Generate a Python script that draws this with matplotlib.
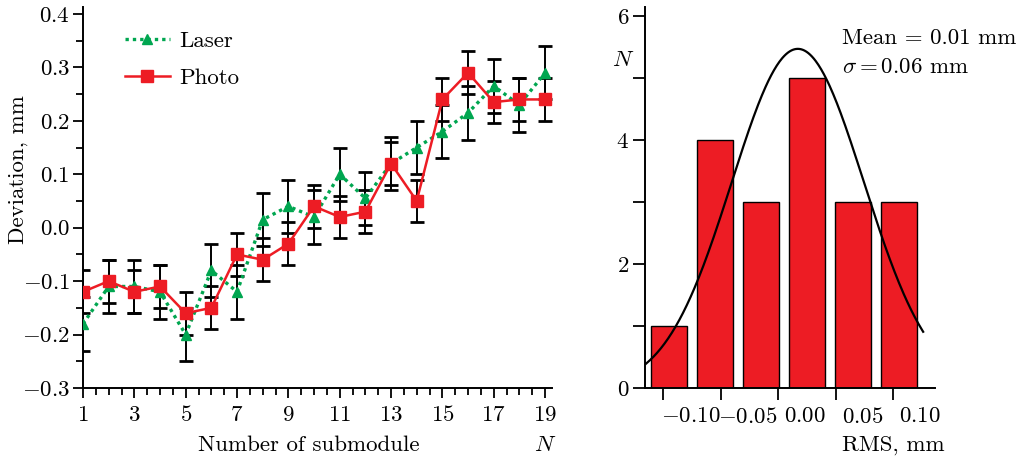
import numpy as np
import matplotlib
matplotlib.use("Agg")
import matplotlib.pyplot as plt
import matplotlib.transforms as mtransforms
from matplotlib.ticker import MultipleLocator, FixedLocator

plt.rcParams['font.family'] = 'cmr10'
plt.rcParams['mathtext.fontset'] = 'cm'
plt.rcParams['axes.formatter.use_mathtext'] = True

# left panel data: deviation per submodule
submodule = np.arange(1, 20)
laser = [-0.18, -0.11, -0.11, -0.12, -0.20, -0.08, -0.12, 0.015, 0.04, 0.02,
         0.10, 0.055, 0.12, 0.15, 0.18, 0.215, 0.265, 0.23, 0.29]
photo = [-0.12, -0.10, -0.12, -0.11, -0.16, -0.15, -0.05, -0.06, -0.03, 0.04,
         0.02, 0.03, 0.12, 0.05, 0.24, 0.29, 0.235, 0.24, 0.24]
laser_err = [0.05] * 19
photo_err = [0.04] * 19

left_yticks = [-0.3, -0.2, -0.1, 0.0, 0.1, 0.2, 0.3, 0.4]
left_xticks = [1, 3, 5, 7, 9, 11, 13, 15, 17, 19]

# right panel data: histogram of RMS
bin_centers = [-0.095, -0.055, -0.015, 0.025, 0.065, 0.105]
counts = [1, 4, 3, 5, 3, 3]
bin_width = 0.031
fit_mean, fit_sigma, fit_amp = 0.017, 0.0575, 5.47
fit_range = (-0.115, 0.126)
right_xticks = [-0.10, -0.05, 0.00, 0.05, 0.10]
right_yticks = [0, 2, 4, 6]

red = '#ED1C24'
green = '#00A650'
fs = 16.5

fig = plt.figure(figsize=(10.27, 4.58), dpi=100)

# ---- left panel
ax = fig.add_axes([83 / 1027, 70 / 458, 469 / 1027, 381 / 458])
ax.errorbar(submodule, laser, yerr=laser_err, fmt='none', ecolor='black',
            elinewidth=1.4, capsize=5, capthick=2, zorder=2)
ax.errorbar(submodule, photo, yerr=photo_err, fmt='none', ecolor='black',
            elinewidth=1.4, capsize=5, capthick=2, zorder=2)
ax.plot(submodule, laser, color=green, ls=(0, (1, 1.2)), lw=2.4, marker='^',
        ms=7.5, mec=green, mfc=green, label='Laser', zorder=3)
ax.plot(submodule, photo, color=red, ls='-', lw=1.8, marker='s',
        ms=8.5, mec=red, mfc=red, label='Photo', zorder=4)

ax.set_xlim(1, 19.27)
ax.set_ylim(-0.3, 0.413)
ax.set_xticks(left_xticks)
ax.set_xticklabels(['$%d$' % v for v in left_xticks])
ax.xaxis.set_minor_locator(MultipleLocator(0.5))
ax.set_yticks(left_yticks)
ax.set_yticklabels(['$%.1f$' % v for v in left_yticks])
ax.yaxis.set_minor_locator(MultipleLocator(0.05))
for s in ['top', 'right']:
    ax.spines[s].set_visible(False)
for s in ['left', 'bottom']:
    ax.spines[s].set_linewidth(1.4)
ax.tick_params(which='major', direction='out', length=7.5, width=1.3, labelsize=fs, pad=5)
ax.tick_params(which='minor', direction='out', length=5, width=1.3)
ax.tick_params(axis='y', which='major', pad=2)

leg = ax.legend(loc='upper left', bbox_to_anchor=((125 - 83) / 469, (388 - 31) / 381),
                frameon=False, fontsize=fs, handlelength=1.95, handletextpad=0.4,
                labelspacing=0.75, numpoints=1, borderpad=0, borderaxespad=0)

fig.text(18 / 1027, 1 - 170 / 458, 'Deviation, mm', rotation=90, ha='center',
         va='center', fontsize=fs)
fig.text(309 / 1027, 1 - 445 / 458, 'Number of submodule', ha='center',
         va='center', fontsize=fs)
fig.text(545 / 1027, 1 - 445 / 458, '$N$', ha='center', va='center', fontsize=fs)

# ---- right panel
ax2 = fig.add_axes([645 / 1027, 70 / 458, 290 / 1027, 381 / 458])
ax2.bar(bin_centers, counts, width=bin_width, color=red, edgecolor='black',
        linewidth=1.0, zorder=2)
xx = np.linspace(fit_range[0], fit_range[1], 300)
ax2.plot(xx, fit_amp * np.exp(-(xx - fit_mean) ** 2 / (2 * fit_sigma ** 2)),
         color='black', lw=1.6, zorder=3)

ax2.set_xlim(-0.1159, 0.1363)
ax2.set_ylim(0, 6.145)
ax2.xaxis.set_major_locator(FixedLocator(right_xticks))
ax2.set_xticklabels(['$%.2f$' % v for v in right_xticks])
ax2.set_yticks(right_yticks)
ax2.set_yticklabels(['$%d$' % v for v in right_yticks])
ax2.yaxis.set_minor_locator(MultipleLocator(1))
for s in ['top', 'right']:
    ax2.spines[s].set_visible(False)
for s in ['left', 'bottom']:
    ax2.spines[s].set_linewidth(1.4)
ax2.tick_params(which='both', direction='out', length=8.5, width=1.3, labelsize=fs)
ax2.tick_params(axis='x', pad=5)
ax2.tick_params(axis='y', pad=3)
shift = mtransforms.ScaledTranslation(0.27, 0, fig.dpi_scale_trans)
for lbl in ax2.get_xticklabels():
    lbl.set_transform(lbl.get_transform() + shift)

ax2.text(842 / 1027, 1 - 38 / 458, 'Mean = 0.01 mm', transform=fig.transFigure,
         ha='left', va='center', fontsize=fs)
ax2.text(842 / 1027, 1 - 67 / 458, r'$\sigma = 0.06$ mm', transform=fig.transFigure,
         ha='left', va='center', fontsize=fs)
fig.text(623 / 1027, 1 - 60 / 458, '$N$', ha='center', va='center', fontsize=fs)
fig.text(945 / 1027, 1 - 445 / 458, 'RMS, mm', ha='right', va='center', fontsize=fs)

fig.savefig('out.png', dpi=100)
